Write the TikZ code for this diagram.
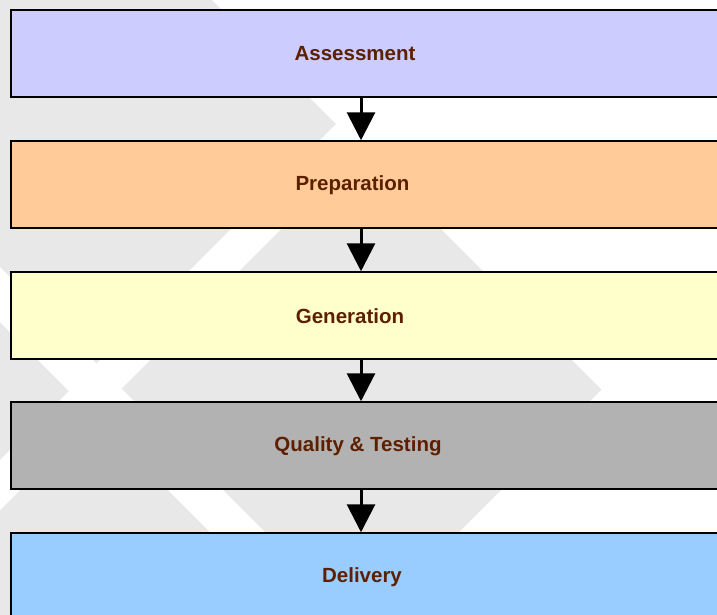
\documentclass[tikz,border=0pt]{standalone}
\usepackage{fontspec}
\setmainfont{Liberation Sans}
\usetikzlibrary{arrows.meta}
\definecolor{bggray}{HTML}{E8E8E8}
\definecolor{txtbrown}{HTML}{5C1F00}
\definecolor{cAssess}{HTML}{CCCCFF}
\definecolor{cPrep}{HTML}{FFCC99}
\definecolor{cGen}{HTML}{FFFFCC}
\definecolor{cQual}{HTML}{B2B2B2}
\definecolor{cDeliv}{HTML}{99CCFF}
\tikzset{
  stagebox/.style={draw=black, line width=1.5pt, rectangle, minimum width=729pt, minimum height=87pt, inner sep=0pt},
  stagelabel/.style={text=txtbrown, font=\fontsize{20.5pt}{24pt}\selectfont\bfseries, inner sep=0pt},
  flowarrow/.style={draw=black, line width=3pt, -{Triangle[width=28pt,length=28pt]}}
}
\begin{document}
\begin{tikzpicture}[x=1pt,y=-1pt]
\useasboundingbox (0,0) rectangle (717,614);
\begin{scope}
\clip (0,0) rectangle (717,614);
\fill[white] (0,0) rectangle (717,614);
% large gray area left of x-y=212 and x+y=991
\fill[bggray] (-200,-412) -- (601.5,389.5) -- (-9,1000) -- (-400,1000) -- (-400,-412) -- cycle;
% white stripes cutting it into tiles
\fill[white] (960,-500) -- (1010,-500) -- (-490,1000) -- (-540,1000) -- cycle;
\fill[white] (-822,-500) -- (-767,-500) -- (733,1000) -- (678,1000) -- cycle;
\end{scope}
\coordinate (ax) at (361,0);
\node[stagebox, fill=cAssess] (b1) at (375.5,53.5) {};
\node[stagebox, fill=cPrep]   (b2) at (375.5,184.5) {};
\node[stagebox, fill=cGen]    (b3) at (375.5,315.5) {};
\node[stagebox, fill=cQual]   (b4) at (375.5,445.5) {};
\node[stagebox, fill=cDeliv]  (b5) at (375.5,576.5) {};
\node[stagelabel] (t1) at (355,54) {Assessment};
\node[stagelabel] (t2) at (352.5,185) {Preparation};
\node[stagelabel] (t3) at (350,316) {Generation};
\node[stagelabel] (t4) at (358,446) {Quality \& Testing};
\node[stagelabel] (t5) at (362,577) {Delivery};
\draw[flowarrow] (b1.south -| ax) -- (b2.north -| ax);
\draw[flowarrow] (b2.south -| ax) -- (b3.north -| ax);
\draw[flowarrow] (b3.south -| ax) -- (b4.north -| ax);
\draw[flowarrow] (b4.south -| ax) -- (b5.north -| ax);
\end{tikzpicture}
\end{document}
